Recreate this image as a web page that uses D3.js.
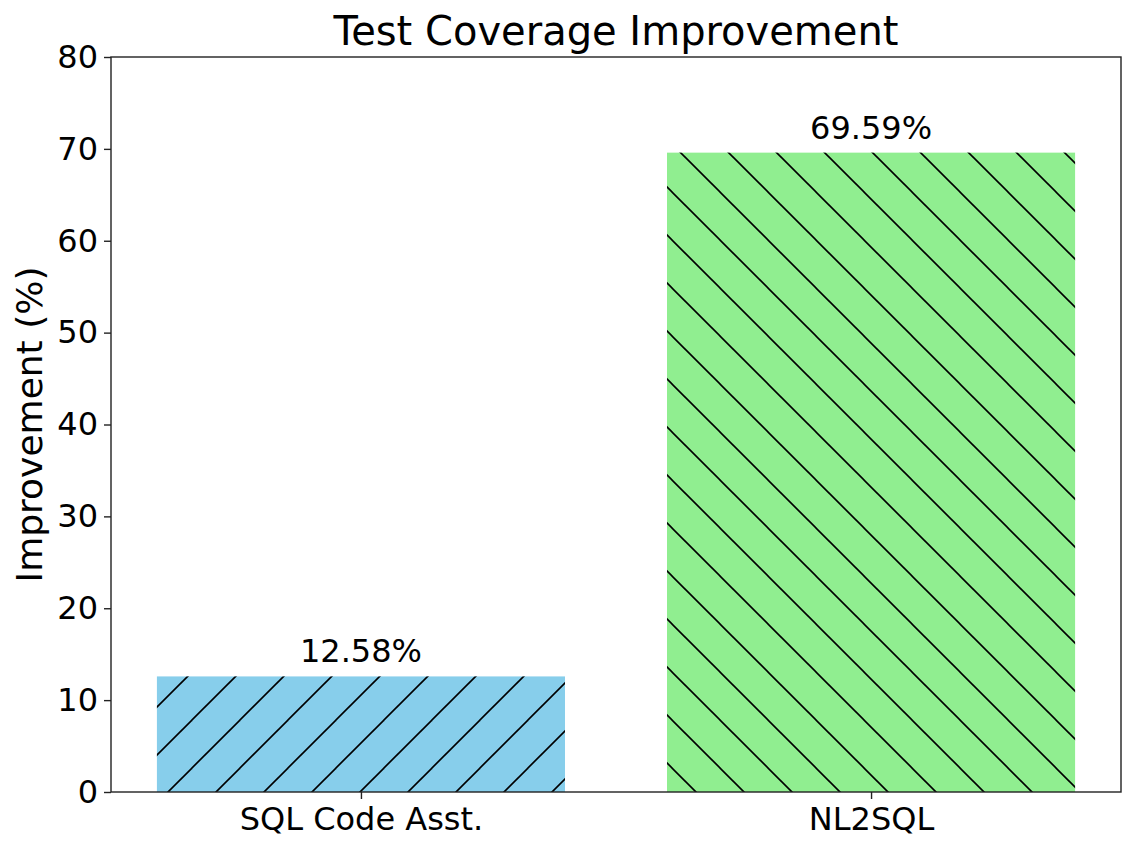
<!DOCTYPE html>
<html>
<head>
<meta charset="utf-8">
<script src="https://cdn.jsdelivr.net/npm/d3@7"></script>
<style>
body { margin: 0; background: #fff; }
svg text { font-family: "DejaVu Sans", sans-serif; fill: #000; }
</style>
</head>
<body>
<svg id="chart" width="1135" height="851"></svg>
<script>
// data
var categories = ["SQL Code Asst.", "NL2SQL"];
var improvements = [12.58, 69.59];
var barColors = ["#87ceeb", "#90ee90"];
var hatches = ["fwd", "back"];
var yTicks = [0, 10, 20, 30, 40, 50, 60, 70, 80];

var svg = d3.select("#chart");
var plotL = 111, plotR = 1121, plotT = 57, plotB = 792;

var x = d3.scaleLinear().domain([-0.49, 1.49]).range([plotL, plotR]);
var y = d3.scaleLinear().domain([0, 80]).range([plotB, plotT]);
var barW = x(0.8) - x(0);

// hatch patterns, laid in page space like matplotlib does
var defs = svg.append("defs");
var P = 48;
var fwd = defs.append("pattern").attr("id", "fwd")
  .attr("patternUnits", "userSpaceOnUse").attr("width", P).attr("height", P);
fwd.selectAll("line").data([[0, P, P, 0], [-4, 4, 4, -4], [P - 4, P + 4, P + 4, P - 4]])
  .join("line")
  .attr("x1", d => d[0]).attr("y1", d => d[1]).attr("x2", d => d[2]).attr("y2", d => d[3])
  .attr("stroke", "#000").attr("stroke-width", 1.6);
var back = defs.append("pattern").attr("id", "back")
  .attr("patternUnits", "userSpaceOnUse").attr("width", P).attr("height", P);
back.selectAll("line").data([[0, 0, P, P], [-4, P - 4, 4, P + 4], [P - 4, -4, P + 4, 4]])
  .join("line")
  .attr("x1", d => d[0]).attr("y1", d => d[1]).attr("x2", d => d[2]).attr("y2", d => d[3])
  .attr("stroke", "#000").attr("stroke-width", 1.6);

// bars
var bars = svg.append("g");
bars.selectAll("rect.fill").data(improvements).join("rect")
  .attr("class", "fill")
  .attr("x", (d, i) => x(i) - barW / 2)
  .attr("y", d => y(d))
  .attr("width", barW)
  .attr("height", d => plotB - y(d))
  .attr("fill", (d, i) => barColors[i]);
bars.selectAll("rect.hatch").data(improvements).join("rect")
  .attr("class", "hatch")
  .attr("x", (d, i) => x(i) - barW / 2)
  .attr("y", d => y(d))
  .attr("width", barW)
  .attr("height", d => plotB - y(d))
  .attr("fill", (d, i) => "url(#" + hatches[i] + ")");

// value labels
svg.append("g").selectAll("text").data(improvements).join("text")
  .attr("x", (d, i) => x(i))
  .attr("y", d => y(d) - 14)
  .attr("text-anchor", "middle")
  .attr("font-size", 32)
  .text(d => d.toFixed(2) + "%");

// axes
var yAxis = svg.append("g").attr("transform", "translate(" + plotL + ",0)")
  .call(d3.axisLeft(y).tickValues(yTicks).tickSize(7).tickPadding(6));
var xAxis = svg.append("g").attr("transform", "translate(0," + plotB + ")")
  .call(d3.axisBottom(x).tickValues([0, 1]).tickFormat((d) => categories[d]).tickSize(7).tickPadding(8));
[yAxis, xAxis].forEach(function (a) {
  a.select(".domain").remove();
  a.selectAll("line").attr("stroke", "#222").attr("stroke-width", 1.4);
  a.selectAll("text").attr("font-size", 32).attr("font-family", "DejaVu Sans").attr("fill", "#000");
});

// frame
svg.append("rect").attr("x", plotL).attr("y", plotT)
  .attr("width", plotR - plotL).attr("height", plotB - plotT)
  .attr("fill", "none").attr("stroke", "#222").attr("stroke-width", 1.4);

// titles
svg.append("text").attr("x", (plotL + plotR) / 2).attr("y", 45)
  .attr("text-anchor", "middle").attr("font-size", 40)
  .text("Test Coverage Improvement");
svg.append("text")
  .attr("transform", "translate(42," + ((plotT + plotB) / 2) + ") rotate(-90)")
  .attr("text-anchor", "middle").attr("font-size", 36)
  .text("Improvement (%)");
</script>
</body>
</html>
